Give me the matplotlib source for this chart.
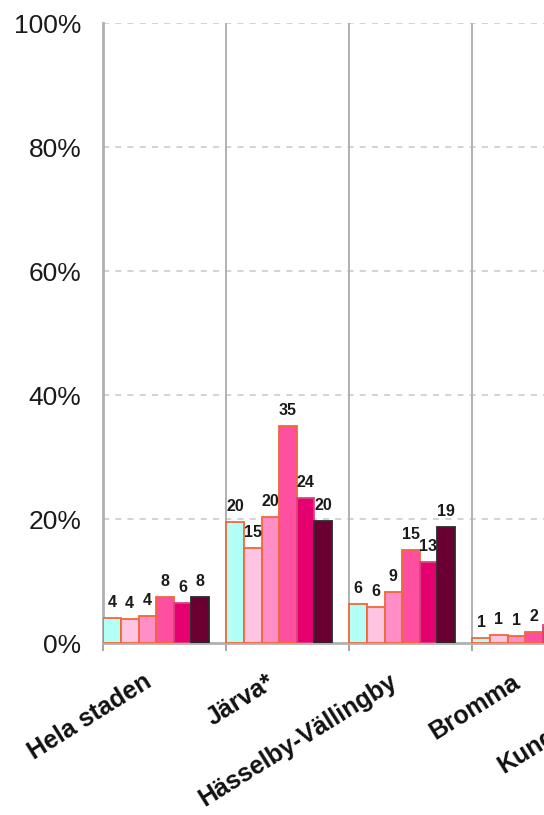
import numpy as np
import matplotlib
matplotlib.use("Agg")
import matplotlib.pyplot as plt

plt.rcParams['font.family'] = ['Liberation Sans', 'DejaVu Sans']

categories = ['Hela staden', 'Järva*', 'Hässelby-Vällingby', 'Bromma', 'Kungsholmen']

# bar heights in percent, one list per series (Kungsholmen is off the picture)
s1 = [4.1, 19.6, 6.3, 0.8]
s2 = [3.9, 15.4, 5.8, 1.3]
s3 = [4.4, 20.3, 8.3, 1.1]
s4 = [7.5, 35.0, 15.0, 1.8]
s5 = [6.45, 23.4, 13.1, 2.9]
s6 = [7.5, 19.7, 18.7, 2.5]

# printed value labels
l1 = ['4', '20', '6', '1']
l2 = ['4', '15', '6', '1']
l3 = ['4', '20', '9', '1']
l4 = ['8', '35', '15', '2']
l5 = ['6', '24', '13', '3']
l6 = ['8', '20', '19', '2']

yticks = [0, 20, 40, 60, 80, 100]

series = [s1, s2, s3, s4, s5, s6]
labels = [l1, l2, l3, l4, l5, l6]
faces = ['#B3FFF6', '#FFC4E1', '#FF8EC6', '#FF4FA0', '#E5006F', '#6A0032']
edges = ['#F0683A', '#F0683A', '#F0683A', '#F0683A', '#D9457E', '#2A2A2A']

fig = plt.figure(figsize=(5.44, 8.15), dpi=100)
n = len(categories)
ax = fig.add_axes([0.19, 0.2107, n * 123 / 544, 0.7607])

bw = 1 / 7
for k, (vals, labs) in enumerate(zip(series, labels)):
    x = np.arange(len(vals)) + (k + 0.5) * bw
    ax.bar(x, vals, width=bw, color=faces[k], edgecolor=edges[k], linewidth=1.3, zorder=3)
    for xi, v, t in zip(x, vals, labs):
        ax.annotate(t, (xi, v), xytext=(0, 8), textcoords='offset points',
                    ha='center', va='baseline', fontsize=11.5, fontweight='bold',
                    color='#1a1a1a', zorder=4)

ax.set_xlim(0, n)
ax.set_ylim(0, 100)

# horizontal dashed grid
for y in yticks[1:]:
    ax.axhline(y, color='#C8C8C8', lw=1.1, ls=(0, (4, 4)), zorder=1)
# vertical separators between districts
for i in range(1, n):
    ax.axvline(i, color='#B0B0B0', lw=1.4, zorder=1)

ax.set_yticks(yticks)
ax.set_yticklabels([f'{y}%' for y in yticks], fontsize=19, color='#1a1a1a')
ax.tick_params(axis='y', length=0, pad=16)

ax.set_xticks(np.arange(n + 1), minor=True)
ax.set_xticks(np.arange(n) + 0.32)
ax.set_xticklabels(categories, rotation=32, ha='right', rotation_mode='anchor',
                   fontsize=18, fontweight='bold', color='#111111')
ax.tick_params(axis='x', which='major', length=0, pad=19)
ax.tick_params(axis='x', which='minor', length=6, width=1.3, color='#A0A0A0')

for s in ['top', 'right']:
    ax.spines[s].set_visible(False)
ax.spines['left'].set_color('#B0B0B0')
ax.spines['left'].set_linewidth(2)
ax.spines['bottom'].set_color('#B0B0B0')
ax.spines['bottom'].set_linewidth(2)

fig.savefig('out.png', dpi=100)
